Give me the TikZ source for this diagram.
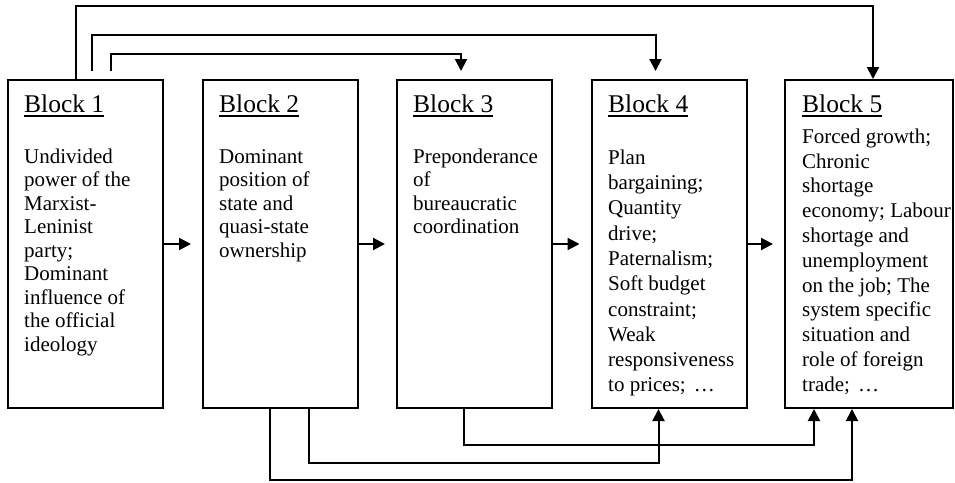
\documentclass[tikz,border=0pt]{standalone}
\usepackage{fontspec}
\setmainfont{Liberation Serif}
\usetikzlibrary{arrows.meta}
\begin{document}
\begin{tikzpicture}[x=1pt,y=-1pt,
  blk/.style={draw,line width=2pt,inner sep=0pt,minimum width=155pt,minimum height=328pt},
  conn/.style={line width=2pt,-{Triangle[length=12pt,width=12pt]}},
  hd/.style={anchor=base west,inner sep=0pt,font=\fontsize{25.5}{30}\selectfont},
  body/.style={anchor=north west,inner sep=0pt,align=left,font=\fontsize{21}{23.5}\selectfont},
  uline/.style={line width=1.3pt}]
\useasboundingbox (0,0) rectangle (955,482);
% blocks
\node[blk] (b1) at (85.5,244) {};
\node[blk] (b2) at (280.5,244) {};
\node[blk] (b3) at (474.5,244) {};
\node[blk] (b4) at (669,244) {};
\node[blk,minimum width=168pt] (b5) at (869,244) {};
% headings
\node[hd] (h1) at (24,112) {Block 1};
\node[hd] (h2) at (219,112) {Block 2};
\node[hd] (h3) at (413,112) {Block 3};
\node[hd] (h4) at (608,112) {Block 4};
\node[hd] (h5) at (802,112) {Block 5};
\foreach \h in {h1,h2,h3,h4,h5}
  \draw[uline] ([yshift=-4pt]\h.base west) -- ([yshift=-4pt]\h.base east);
% body texts
\node[body] (t1) at (24,146.55) {\strut Undivided\\power of the\\Marxist-\\Leninist\\party;\\Dominant\\influence of\\the official\\ideology};
\node[body] (t2) at (219,146.55) {\strut Dominant\\position of\\state and\\quasi-state\\ownership};
\node[body] (t3) at (413,146.55) {\strut Preponderance\\of\\bureaucratic\\coordination};
\node[body,font=\fontsize{21}{25.3}\selectfont] (t4) at (608,146.29) {\strut Plan\\bargaining;\\Quantity\\drive;\\Paternalism;\\Soft budget\\constraint;\\Weak\\responsiveness\\to prices;\hspace{8pt}…};
\node[body,font=\fontsize{21}{24.8}\selectfont] (t5) at (802,125.64) {\strut Forced growth;\\Chronic\\shortage\\economy; Labour\\shortage and\\unemployment\\on the job; The\\system specific\\situation and\\role of foreign\\trade;\hspace{8pt}…};
% horizontal arrows
\draw[conn,shorten >=11pt] (b1.east) -- (b2.west);
\draw[conn,shorten >=11pt] (b2.east) -- (b3.west);
\draw[conn,shorten >=11pt] (b3.east) -- (b4.west);
\draw[conn,shorten >=11pt] (b4.east) -- (b5.west);
% top feedforward connectors
\draw[conn] ([xshift=69pt]b1.north west) -- ++(0,-73) -| ([xshift=89pt]b5.north west);
\draw[conn] ([xshift=85pt,yshift=8pt]b1.north west) -- ++(0,-36) -| ([xshift=65pt,yshift=8pt]b4.north west);
\draw[conn] ([xshift=104pt,yshift=8pt]b1.north west) -- ++(0,-17) -| ([xshift=65pt,yshift=8pt]b3.north west);
% bottom connectors
\draw[conn] ([xshift=68pt]b2.south west) -- ++(0,71) -| ([xshift=68pt]b5.south west);
\draw[conn] ([xshift=107pt]b2.south west) -- ++(0,54) -| ([xshift=68pt]b4.south west);
\draw[conn] ([xshift=68pt]b3.south west) -- ++(0,36) -| ([xshift=30pt]b5.south west);
\end{tikzpicture}
\end{document}
